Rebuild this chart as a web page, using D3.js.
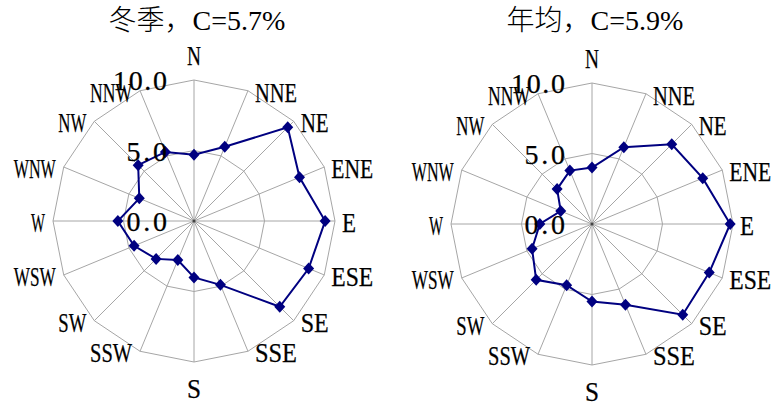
<!DOCTYPE html>
<html>
<head>
<meta charset="utf-8">
<script src="https://cdn.jsdelivr.net/npm/d3@7"></script>
<style>
  body { margin: 0; background: #fff; }
  svg { display: block; }
</style>
</head>
<body>
<svg id="chart" width="774" height="408"></svg>
<script>
//
// Data
//

var directions = ['N', 'NNE', 'NE', 'ENE', 'E', 'ESE', 'SE', 'SSE',
                  'S', 'SSW', 'SW', 'WSW', 'W', 'WNW', 'NW', 'NNW']
var winterValues = [4.7, 5.7, 9.4, 8.1, 9.3, 8.8, 8.6, 4.9, 4.0, 3.0, 3.8, 4.6, 5.4, 4.2, 5.6, 5.3]
var annualValues = [4.0, 5.9, 8.0, 8.5, 9.8, 9.0, 9.1, 6.2, 5.5, 4.7, 5.6, 4.6, 3.7, 2.4, 3.5, 4.1]
var ringTicks = [0, 5, 10]
var tickLabels = ['0.0', '5.0', '10.0']
var titleNames = ['冬季，', '年均，']
var titleCalms = ['C=5.7%', 'C=5.9%']

//
// Configuration
//

var radius = 141
var colorLine = '#000080'
var colorGrid = '#a6a6a6'
var serif = '"Liberation Serif", "Times New Roman", serif'
var cjk = '"Noto Sans CJK SC", sans-serif'

var svg = d3.select('#chart')
var r = d3.scaleLinear().domain([0, 10]).range([0, radius])
var step = 2 * Math.PI / directions.length

//
// Functions
//

function drawRose(cx, cy, name, calm, values) {
  var g = svg.append('g').attr('transform', 'translate(' + cx + ',' + cy + ')')

  var ring = d3.lineRadial()
    .angle(function(d, i) { return i * step })
    .radius(function(d) { return r(d) })
    .curve(d3.curveLinearClosed)

  // rings
  ringTicks.slice(1).forEach(function(t) {
    g.append('path')
      .attr('d', ring(directions.map(function() { return t })))
      .attr('fill', 'none')
      .attr('stroke', colorGrid)
      .attr('stroke-width', 1)
  })

  // spokes
  g.selectAll('line.spoke').data(directions).enter().append('line')
    .attr('class', 'spoke')
    .attr('x1', 0).attr('y1', 0)
    .attr('x2', function(d, i) { return r(10) * Math.sin(i * step) })
    .attr('y2', function(d, i) { return -r(10) * Math.cos(i * step) })
    .attr('stroke', colorGrid)
    .attr('stroke-width', 1)

  g.append('circle').attr('r', 1.5).attr('fill', '#444')

  // direction labels
  g.selectAll('text.dir').data(directions).enter().append('text')
    .attr('class', 'dir')
    .attr('x', function(d, i) {
      var vx = r(10) * Math.sin(i * step)
      if (i === 0 || i === 8) return vx
      return i < 8 ? vx + 7 : vx - 8
    })
    .attr('y', function(d, i) {
      var vy = -r(10) * Math.cos(i * step)
      if (i === 0) return vy - 15
      if (i === 8) return vy + 36
      return vy + 11
    })
    .attr('text-anchor', function(d, i) {
      if (i === 0 || i === 8) return 'middle'
      return i < 8 ? 'start' : 'end'
    })
    .attr('font-family', serif)
    .attr('font-size', 28)
    .attr('textLength', function(d) { return d.length * 14 })
    .attr('lengthAdjust', 'spacingAndGlyphs')
    .attr('fill', '#000')
    .attr('stroke', '#000')
    .attr('stroke-width', 0.25)
    .text(function(d) { return d })

  // the wind line and markers
  g.append('path')
    .attr('d', ring(values))
    .attr('fill', 'none')
    .attr('stroke', colorLine)
    .attr('stroke-width', 2)

  g.selectAll('path.mark').data(values).enter().append('path')
    .attr('class', 'mark')
    .attr('transform', function(d, i) {
      var a = i * step
      return 'translate(' + (r(d) * Math.sin(a)) + ',' + (-r(d) * Math.cos(a)) + ')'
    })
    .attr('d', 'M0,-6L5.5,0L0,6L-5.5,0Z')
    .attr('fill', colorLine)

  // radial tick labels
  g.selectAll('text.tick').data(ringTicks).enter().append('text')
    .attr('class', 'tick')
    .attr('x', -27)
    .attr('y', function(d) { return -r(d) + 10 })
    .attr('text-anchor', 'end')
    .attr('font-family', serif)
    .attr('font-size', 28)
    .attr('textLength', function(d, i) { return tickLabels[i].length * 13.5 })
    .attr('lengthAdjust', 'spacing')
    .attr('fill', '#000')
    .attr('stroke', '#000')
    .attr('stroke-width', 0.25)
    .text(function(d, i) { return tickLabels[i] })

  // title
  var title = svg.append('text')
    .attr('x', cx + 3)
    .attr('y', 30)
    .attr('text-anchor', 'middle')
    .attr('font-size', 28)
    .attr('fill', '#000')
  title.append('tspan').attr('font-family', cjk).attr('font-weight', 300).text(name)
  title.append('tspan').attr('font-family', serif).text(calm)
}

//
// Initialization
//

drawRose(194, 221, titleNames[0], titleCalms[0], winterValues)
drawRose(592, 224, titleNames[1], titleCalms[1], annualValues)
</script>
</body>
</html>
